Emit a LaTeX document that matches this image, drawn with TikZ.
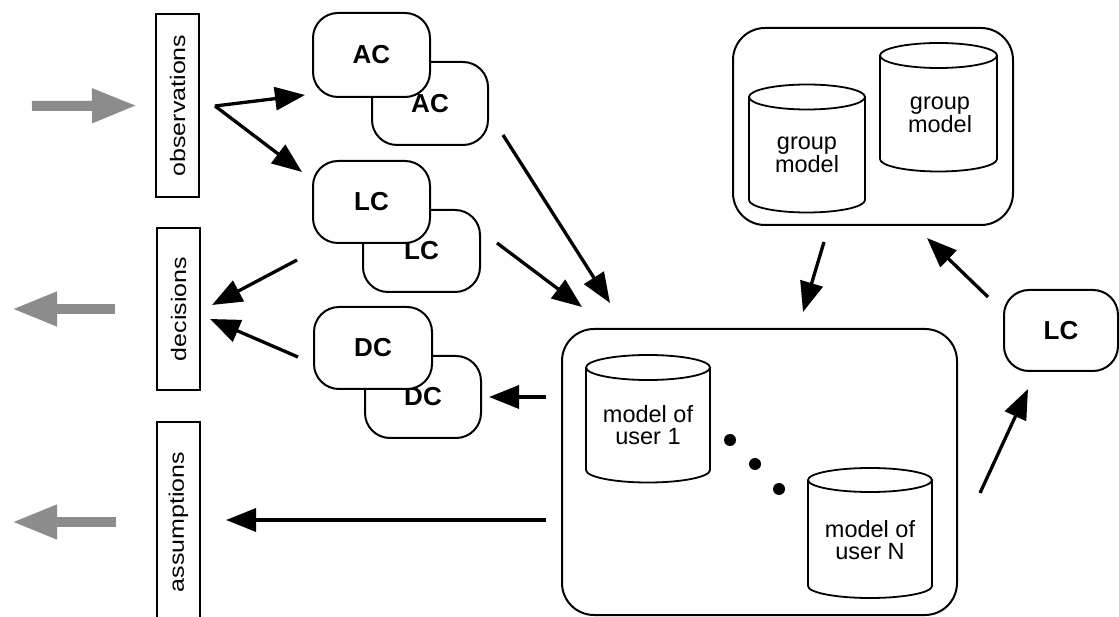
\documentclass[tikz,border=0pt]{standalone}
\usepackage{fontspec}
\setmainfont{Liberation Sans}
\usetikzlibrary{arrows.meta}
\definecolor{blockgray}{RGB}{140,140,140}
\tikzset{
  unitbox/.style={draw, line width=2pt, rounded corners=25pt, fill=white,
    inner sep=0pt, font=\fontsize{26}{26}\selectfont\bfseries},
  storebox/.style={draw, line width=2pt, rounded corners=32pt, inner sep=0pt},
  tagbox/.style={draw, line width=2pt, inner sep=0pt, rotate=90, fill=white,
    minimum height=43pt, font=\fontsize{21}{21}\selectfont},
  cylline/.style={line width=1.8pt},
  cyltext/.style={align=center, inner sep=0pt, font=\fontsize{23.5}{22.5}\selectfont},
  flow/.style={line width=3.3pt, -{Triangle[length=30pt,width=23pt]}},
  grayflow/.style={blockgray, line width=10pt, -{Triangle[length=45pt,width=32pt]}},
  dot/.style={circle, fill=black, inner sep=0pt, minimum size=12pt}
}
\begin{document}
\begin{tikzpicture}[x=1pt,y=1pt]
\useasboundingbox (0,0) rectangle (1119,616);

% interface labels on the left
\node[tagbox, minimum width=183pt] (obs) at (177.5,510.5) {\scalebox{1.19}[1]{observations}};
\node[tagbox, minimum width=162pt] (dec) at (178.5,307) {\scalebox{1.19}[1]{decisions}};
\node[tagbox, minimum width=200pt] (asm) at (178.5,94) {\scalebox{1.19}[1]{assumptions}};

% outside world (a rotated box has its north side on the left)
\coordinate (obsin) at (32,510);
\coordinate (decout) at (12,307);
\coordinate (asmout) at (12,94);
\draw[grayflow, shorten >=18pt] (obsin) -- (obs.north);
\draw[grayflow, shorten <=41pt] (dec.north) -- (decout);
\draw[grayflow, shorten <=40pt] (asm.north) -- (asmout);

% component pairs (back copy first)
\node[unitbox, minimum width=116pt, minimum height=83pt] (ac2) at (430,512.5) {AC};
\node[unitbox, minimum width=117pt, minimum height=84pt] (ac1) at (371.5,561) {AC};
\node[unitbox, minimum width=117pt, minimum height=82pt] (lc2) at (421.5,365) {LC};
\node[unitbox, minimum width=117pt, minimum height=82pt] (lc1) at (371.5,414) {LC};
\node[unitbox, minimum width=116pt, minimum height=82pt] (dc2) at (423,219) {DC};
\node[unitbox, minimum width=118pt, minimum height=82pt] (dc1) at (373,268) {DC};
\node[unitbox, minimum width=114pt, minimum height=81pt] (lcg) at (1061,285.5) {LC};

% group model store
\node[storebox, minimum width=280pt, minimum height=197pt] (grp) at (873,489.5) {};
\draw[cylline] (749,519) -- (749,416) arc[start angle=180, end angle=360, x radius=58pt, y radius=12.5pt] -- (865,519);
\draw[cylline] (807,519) ellipse [x radius=58pt, y radius=12.5pt];
\node[cyltext] (gm1) at (807,461) {group\\model};
\draw[cylline] (880,560.5) -- (880,457) arc[start angle=180, end angle=360, x radius=58.5pt, y radius=12.5pt] -- (997,560.5);
\draw[cylline] (938.5,560.5) ellipse [x radius=58.5pt, y radius=12.5pt];
\node[cyltext] (gm2) at (940,501) {group\\model};

% user model store
\node[storebox, minimum width=395pt, minimum height=286pt] (usr) at (759.5,144) {};
\draw[cylline] (586,248.5) -- (586,146) arc[start angle=180, end angle=360, x radius=62pt, y radius=12.5pt] -- (710,248.5);
\draw[cylline] (648,248.5) ellipse [x radius=62pt, y radius=12.5pt];
\node[cyltext] (um1) at (648,191) {model of\\user 1};
\draw[cylline] (808,136) -- (808,30) arc[start angle=180, end angle=360, x radius=62pt, y radius=12pt] -- (932,136);
\draw[cylline] (870,136) ellipse [x radius=62pt, y radius=12pt];
\node[cyltext] (umN) at (870,76) {model of\\user N};
\node[dot] (d1) at (730,176) {};
\node[dot] (d2) at (755,152) {};
\node[dot] (d3) at (779,127) {};

% connector end points
\coordinate (fork) at (215,510);
\coordinate (toac) at (305,521);
\coordinate (tolc) at (302,444);
\coordinate (lcfrom) at (297,356);
\coordinate (lctodec) at (212,311);
\coordinate (dcfrom) at (298,259);
\coordinate (dctodec) at (210,297);
\coordinate (acfrom) at (503,481);
\coordinate (acinto) at (610,313);
\coordinate (lcfrom2) at (497,373);
\coordinate (lcinto) at (582,309);
\coordinate (usrtodc) at (546,219);
\coordinate (dcin) at (489,219);
\coordinate (usrtoasm) at (546,96);
\coordinate (asmin) at (226,96);
\coordinate (grpout) at (824,374);
\coordinate (usrin) at (803,304);
\coordinate (lcgout) at (988,319);
\coordinate (grpin) at (927,378);
\coordinate (usrout) at (980,123);
\coordinate (lcgin) at (1028,227);

% connectors
\draw[flow] (fork) -- (toac);
\draw[flow] (fork) -- (tolc);
\draw[flow] (lcfrom) -- (lctodec);
\draw[flow] (dcfrom) -- (dctodec);
\draw[flow] (acfrom) -- (acinto);
\draw[flow] (lcfrom2) -- (lcinto);
\draw[flow] (usrtodc) -- (dcin);
\draw[flow] (usrtoasm) -- (asmin);
\draw[flow] (grpout) -- (usrin);
\draw[flow] (lcgout) -- (grpin);
\draw[flow] (usrout) -- (lcgin);
\end{tikzpicture}
\end{document}
